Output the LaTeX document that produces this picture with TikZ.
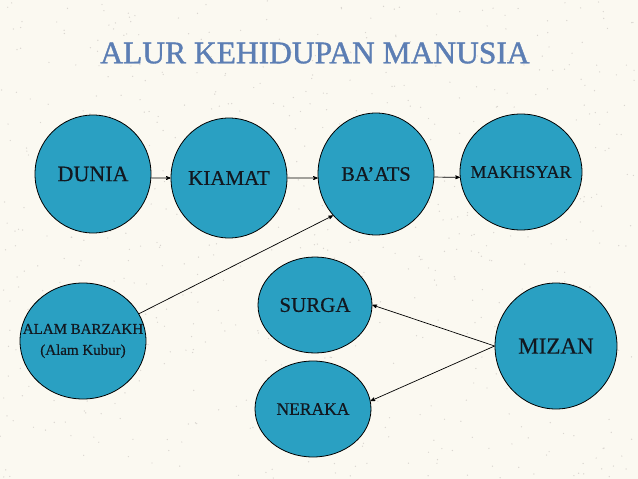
\documentclass[tikz,border=0pt]{standalone}
\usepackage{fontspec}
\setmainfont{Liberation Serif}
\newfontfamily\heavyserif{Liberation Serif}[Ligatures=TeX,AutoFakeBold=0.5]
\newfontfamily\titleserif{Liberation Serif}[Ligatures=TeX,AutoFakeBold=1.2]
\usetikzlibrary{arrows,shapes.geometric}
\definecolor{xteal}{RGB}{42,160,194}
\definecolor{xtitle}{RGB}{92,126,180}
\definecolor{xpaper}{RGB}{251,249,241}
\definecolor{xdot}{RGB}{218,214,208}
\definecolor{xink}{RGB}{18,24,32}

\begin{document}
\begin{tikzpicture}[->,>=stealth',x=1pt,y=-1pt,line width=0.7pt]
\tikzset{stage/.style 2 args={ellipse,fill=xteal,draw=black,inner sep=0pt,line width=0.8pt,minimum width=#1,minimum height=#2}}
\tikzset{word/.style={text=xink,font=\heavyserif\bfseries\fontsize{#1}{#1}\selectfont}}
\useasboundingbox (0,0) rectangle (638,479);
\fill[xpaper] (0,0) rectangle (638,479);
\pgfmathsetseed{11}
\foreach \i in {1,...,700} {\fill[xdot] ({rnd*638},{rnd*479}) circle (0.7);}
\node[text=xtitle,font=\titleserif\bfseries\fontsize{31.5}{32}\selectfont] at (315,53) (title) {ALUR KEHIDUPAN MANUSIA};
% top row
\node[stage={116}{118},label={[word=22]center:DUNIA}] at (93,174) (dunia) {};
\node[stage={116}{120},label={[word=21]center:KIAMAT}] at (229,178) (kiamat) {};
\node[stage={116}{122},label={[word=20.5]center:BA'ATS}] at (376,174) (baats) {};
\node[stage={122}{116},label={[word=18]center:MAKHSYAR}] at (521,172) (makhsyar) {};
\draw (dunia.-4) -- (kiamat.west);
\draw (kiamat.east) -- (baats.184);
\draw (baats.-3) -- (makhsyar.185);
% bottom part
\node[stage={126}{116},label={[text=xink,font=\heavyserif\bfseries\fontsize{15}{21}\selectfont,align=center]center:{ALAM BARZAKH\\(Alam Kubur)}}] at (83,341) (barzakh) {};
\draw (barzakh.26) -- (baats.224);
\node[stage={114}{96},label={[word=21]center:SURGA}] at (315,305) (surga) {};
\node[stage={116}{96},label={[word=17.5]center:NERAKA}] at (313,409) (neraka) {};
\node[stage={122}{126},label={[word=23]center:MIZAN}] at (556,346) (mizan) {};
\draw (mizan.west) -- (surga.east);
\draw (mizan.west) -- (neraka.8);
\end{tikzpicture}
\end{document}
